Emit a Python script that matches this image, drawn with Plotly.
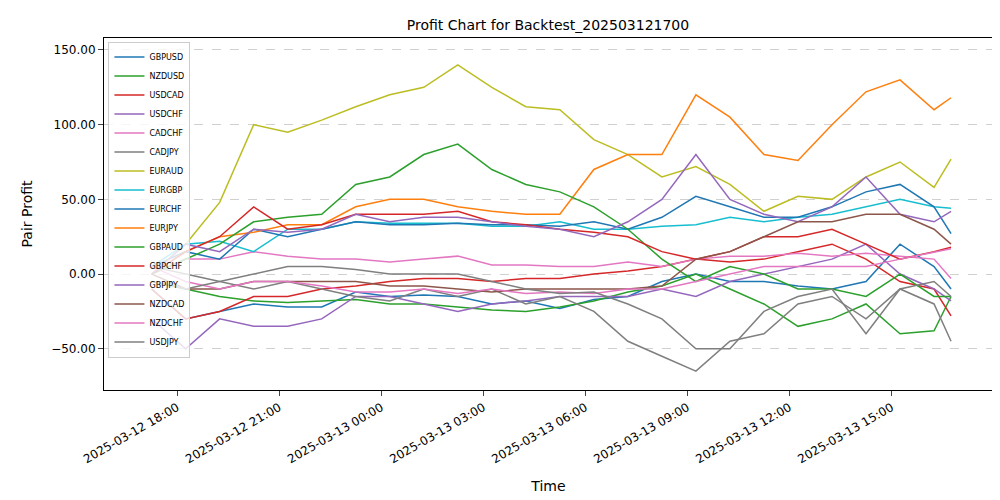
import plotly.graph_objects as go
import pandas as pd

times = list(pd.date_range("2025-03-12 17:15", periods=24, freq="h")) + [pd.Timestamp("2025-03-13 16:45")]

names = ["GBPUSD","NZDUSD","USDCAD","USDCHF","CADCHF","CADJPY","EURAUD","EURGBP",
         "EURCHF","EURJPY","GBPAUD","GBPCHF","GBPJPY","NZDCAD","NZDCHF","USDJPY"]
GBPUSD=[-10,-30,-25,-20,-22,-22,-12,-15,-14,-15,-20,-18,-23,-17,-15,-5,0,-5,-5,-8,-10,-5,20,5,-10]
NZDUSD=[-5,-10,-15,-18,-19,-18,-17,-20,-20,-22,-24,-25,-22,-18,-12,-8,0,-10,-20,-35,-30,-20,-40,-38,-15]
USDCAD=[-10,-30,-25,-15,-15,-10,-8,-5,-3,-3,-5,-3,-3,0,2,5,10,8,10,15,20,10,-5,-10,-28]
USDCHF=[-30,-50,-30,-35,-35,-30,-15,-15,-20,-25,-20,-18,-15,-15,-15,-10,-15,-5,0,5,10,20,0,-10,-18]
CADCHF=[0,10,10,15,12,10,10,8,10,12,6,6,5,5,8,5,10,12,12,14,12,14,12,10,-3]
CADJPY=[5,0,-5,-10,-5,-10,-15,-18,-10,-15,-10,-20,-15,-25,-45,-55,-65,-45,-40,-20,-15,-30,-10,-20,-45]
EURAUD=[0,20,48,100,95,103,112,120,125,140,125,112,110,90,80,65,72,60,42,52,50,65,75,58,77]
EURGBP=[5,20,22,15,30,30,35,34,34,34,32,32,35,30,30,32,33,38,35,38,40,45,50,45,44]
EURCHF=[5,15,10,30,25,30,35,33,33,34,33,33,32,35,30,38,52,45,38,38,45,55,60,45,27]
EURJPY=[0,15,25,28,33,33,45,50,50,45,42,40,40,70,80,80,120,105,80,76,100,122,130,110,118]
GBPAUD=[0,10,20,35,38,40,60,65,80,87,70,60,55,45,30,10,-5,5,0,-10,-10,-15,0,-15,-15]
GBPCHF=[0,15,25,45,30,33,40,40,40,42,35,33,30,28,25,15,10,15,25,25,30,20,10,15,18]
GBPJPY=[0,20,15,30,28,30,40,35,38,38,35,32,30,25,35,50,80,50,40,35,45,65,40,35,42]
NZDCAD=[0,-10,-10,-5,-5,-5,-5,-8,-8,-10,-12,-10,-10,-10,-10,-8,10,15,25,35,35,40,40,30,20]
NZDCHF=[5,-5,-10,-5,-5,-8,-12,-12,-10,-13,-10,-13,-12,-13,-10,-10,-5,0,5,5,5,5,10,15,17]
USDJPY=[-5,-10,-5,0,5,5,3,0,0,0,-5,-10,-13,-12,-20,-30,-50,-50,-25,-15,-10,-40,-10,-5,-15]
series=[GBPUSD,NZDUSD,USDCAD,USDCHF,CADCHF,CADJPY,EURAUD,EURGBP,EURCHF,EURJPY,GBPAUD,GBPCHF,GBPJPY,NZDCAD,NZDCHF,USDJPY]
colors=["#1f77b4","#2ca02c","#d62728","#9467bd","#e377c2","#7f7f7f","#bcbd22","#17becf",
        "#1f77b4","#ff7f0e","#2ca02c","#d62728","#9467bd","#8c564b","#e377c2","#7f7f7f"]

fig=go.Figure()
for n,s,c in zip(names,series,colors):
    fig.add_trace(go.Scatter(x=times,y=s,name=n,mode="lines",line=dict(color=c,width=1.5)))

fig.update_layout(
    width=1000,height=500,plot_bgcolor="white",paper_bgcolor="white",
    font=dict(family="DejaVu Sans",size=12,color="black"),
    title=dict(text="Profit Chart for Backtest_202503121700",x=0.54,xanchor="center",y=0.975,yanchor="top",font=dict(size=14)),
    margin=dict(l=96,r=15,t=30,b=118),
    legend=dict(x=0.005,y=0.99,xanchor="left",yanchor="top",bordercolor="#cccccc",borderwidth=1,
                font=dict(size=8),tracegroupgap=0,itemwidth=30,bgcolor="rgba(255,255,255,0.8)"),
    xaxis=dict(title="Time",range=["2025-03-12 15:51","2025-03-13 17:59"],tickformat="%Y-%m-%d %H:%M",
               dtick=3*3600000,tick0="2025-03-12 18:00",tickangle=-30,showline=True,mirror=True,
               linecolor="black",ticks="outside",showgrid=False,zeroline=False,automargin=False),
    yaxis=dict(title="Pair Profit",range=[-77.6,158],tickvals=[-50,0,50,100,150],tickformat=".2f",
               showline=True,mirror=True,linecolor="black",ticks="outside",showgrid=True,
               gridcolor="#d0d0d0",griddash="dash",zeroline=False,automargin=False),
)
fig.write_html("out.html")
